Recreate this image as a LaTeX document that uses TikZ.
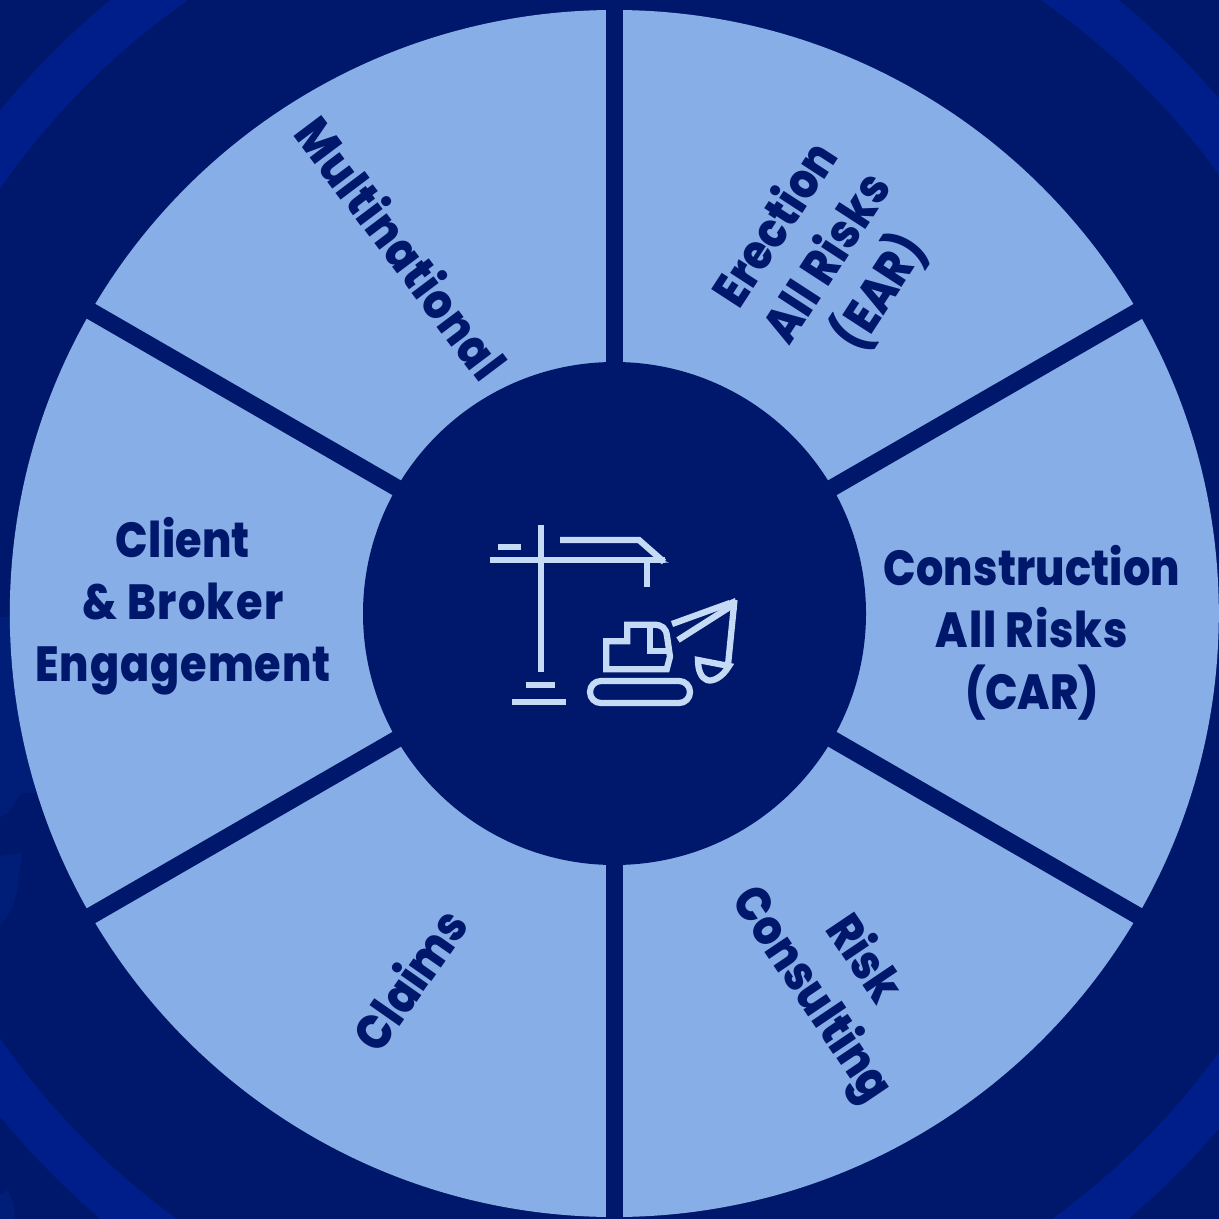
\documentclass[tikz,border=0pt]{standalone}
\usepackage{fontspec}
\usetikzlibrary{calc}
\setmainfont{Poppins}[BoldFont={Poppins ExtraBold},BoldFeatures={FakeStretch=0.87}]
\newcommand{\spaced}[2]{{\addfontfeature{LetterSpace=#1}#2}}
\definecolor{bgnavy}{HTML}{00186B}
\definecolor{patchblue}{HTML}{001D78}
\definecolor{bandblue}{HTML}{001E8A}
\definecolor{wedgeblue}{HTML}{88AEE8}
\definecolor{iconpale}{HTML}{C5DAF5}
\tikzset{
  labeltext/.style={text=bgnavy,font=\bfseries\fontsize{37}{46.5}\selectfont,align=center,inner sep=0pt},
  divider/.style={draw=bgnavy,line width=12.75pt},
  iconline/.style={draw=iconpale,line width=4.7pt,line join=miter},
}
\begin{document}
\begin{tikzpicture}[x=0.75pt,y=-0.75pt]
\useasboundingbox (0,0) rectangle (1219,1219);
\fill[bgnavy] (0,0) rectangle (1219,1219);
\begin{scope}
\clip (0,0) rectangle (1219,1219);
\fill[patchblue] (0,617) -- (10,617) -- (45,700) -- (35,793) -- (22,793)
  .. controls (15,797) and (15,812) .. (0,817) -- cycle;
\fill[patchblue] (0,856) -- (22,853) .. controls (18,880) and (20,905) .. (0,925) -- cycle;
\fill[patchblue] (0,1195) -- (8,1190) -- (14,1205) -- (15,1219) -- (0,1219) -- cycle;
\draw[bandblue,line width=35.25pt] (614.5,613.5) circle [radius=770.5];
\end{scope}
\coordinate (c) at (614.5,613.5);
\fill[wedgeblue] (614.3,613.5) circle [x radius=604.5,y radius=603.5];
\foreach \a/\n in {90/a,30/b,-30/c,-90/d,-150/e,150/f}{
  \coordinate (o\n) at ($(c)+(\a:622)$);
  \draw[divider] (c) -- (o\n);
}
\fill[bgnavy] (c) circle [radius=251.5];
% labels
\node[labeltext] (car) at (1032,633) {\spaced{0.4}{Construction}\\\spaced{2}{All Risks}\\(CAR)};
\node[labeltext] (client) at (183,606) {\spaced{0.5}{Client}\\\spaced{3}{\&\ Broker}\\\spaced{2}{Engagement}};
\node[labeltext,rotate=57] (ear) at (829,259) {Erection\\\spaced{1.5}{All Risks}\\(EAR)};
\node[labeltext,rotate=-53] (multi) at (402,247) {\spaced{1.5}{Multinational}};
\node[labeltext,rotate=-56] (risk) at (836,978) {Risk\\Consulting};
\node[labeltext,rotate=55] (claims) at (409,979) {Claims};
% icon: crane
\draw[iconline] (541,525) -- (541,672);
\draw[iconline] (490,559.7) -- (665,559.7);
\draw[iconline] (498,547) -- (521,547);
\draw[iconline] (560,540) -- (639,540) -- (664,562);
\fill[iconpale] (655,556.7) -- (669,562.7) -- (655,562.7) -- cycle;
\draw[iconline] (646.7,560) -- (646.7,587);
\draw[iconline] (526,685) -- (555,685);
\draw[iconline] (512,702) -- (566,702);
% icon: excavator
\draw[iconline,rounded corners=8.2pt] (590,681) rectangle (690,703);
\draw[iconline] (606.3,669.3) -- (606.3,641.3) -- (627.3,641.3) -- (627.3,624.7) -- (653.3,624.7)
  .. controls (662,624.7) and (666,628) .. (667,636) -- (670,656.7) -- (666.7,669.3) -- cycle;
\draw[iconline] (650,624.7) -- (650,651.3) -- (670,651.3);
\draw[iconline] (672,624) -- (730,603);
\draw[iconline] (678,640) -- (733,605);
\draw[iconline] (734.5,600) -- (728,665);
\fill[iconpale] (735,598) -- (737,610) -- (722,604) -- cycle;
\draw[iconline] (698,660) -- (729,666) .. controls (722,678) and (712,682) .. (707,680)
  .. controls (701,678) and (698,670) .. (698,660) -- cycle;
\end{tikzpicture}
\end{document}
